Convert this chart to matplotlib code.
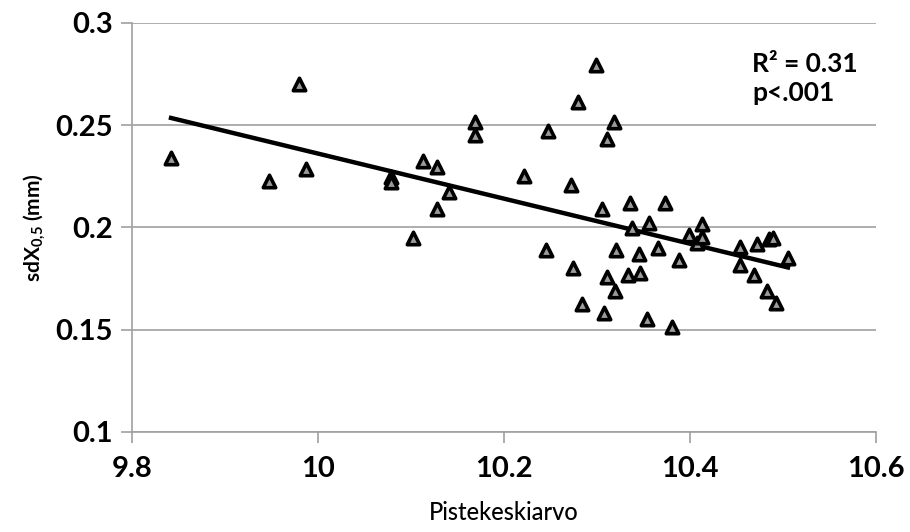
import numpy as np
import matplotlib
matplotlib.use("Agg")
import matplotlib.pyplot as plt

# data
x = [9.842, 9.947, 9.980, 9.987, 10.078, 10.078, 10.102, 10.113, 10.128, 10.128,
     10.141, 10.169, 10.169, 10.221, 10.245, 10.247, 10.272, 10.274, 10.279, 10.284,
     10.299, 10.305, 10.307, 10.311, 10.311, 10.318, 10.319, 10.320, 10.333, 10.335,
     10.337, 10.345, 10.346, 10.354, 10.356, 10.365, 10.373, 10.380, 10.388, 10.399,
     10.407, 10.413, 10.413, 10.453, 10.453, 10.469, 10.472, 10.483, 10.485, 10.489,
     10.492, 10.505]
y = [0.2337, 0.2226, 0.2700, 0.2288, 0.2248, 0.2223, 0.1946, 0.2326, 0.2296, 0.2090,
     0.2174, 0.2516, 0.2451, 0.2249, 0.1892, 0.2472, 0.2208, 0.1800, 0.2611, 0.1624,
     0.2795, 0.2089, 0.1583, 0.2432, 0.1759, 0.2513, 0.1689, 0.1892, 0.1767, 0.2120,
     0.1995, 0.1870, 0.1775, 0.1552, 0.2022, 0.1897, 0.2120, 0.1514, 0.1839, 0.1962,
     0.1926, 0.2016, 0.1951, 0.1905, 0.1816, 0.1767, 0.1917, 0.1690, 0.1941, 0.1946,
     0.1631, 0.1849]

xticks = [9.8, 10, 10.2, 10.4, 10.6]
yticks = [0.1, 0.15, 0.2, 0.25, 0.3]

plt.rcParams['font.family'] = ['Lato', 'DejaVu Sans']
plt.rcParams['mathtext.fontset'] = 'custom'
plt.rcParams['mathtext.rm'] = 'Lato:bold'
plt.rcParams['mathtext.default'] = 'rm'

fig = plt.figure(figsize=(9.1, 5.32), dpi=100)
ax = fig.add_axes([0.145, 0.188, 0.818, 0.769])

x_arr = np.array(x)
y_arr = np.array(y)
k, b = np.polyfit(x_arr, y_arr, 1)
xx = np.array([x_arr.min(), x_arr.max()])
ax.plot(xx, k * xx + b, color="black", lw=3.2, zorder=2)

ax.scatter(x, y, marker="^", s=80, facecolor="#9a9a9a", edgecolor="black",
           linewidths=2.6, zorder=3)

ax.set_xlim(9.8, 10.6)
ax.set_ylim(0.1, 0.3)
ax.set_xticks(xticks)
ax.set_xticklabels(["9.8", "10", "10.2", "10.4", "10.6"])
ax.set_yticks(yticks)
ax.set_yticklabels(["0.1", "0.15", "0.2", "0.25", "0.3"])
ax.yaxis.grid(True, color="#a0a0a0", lw=1.2)
ax.set_axisbelow(True)
for s in ["top", "right"]:
    ax.spines[s].set_visible(False)
for s in ["left", "bottom"]:
    ax.spines[s].set_color("#a0a0a0")
    ax.spines[s].set_linewidth(1.2)
ax.tick_params(colors="#a0a0a0", length=8, width=1.2, labelcolor="black",
               labelsize=21)
for lab in ax.get_xticklabels() + ax.get_yticklabels():
    lab.set_fontweight("bold")
ax.tick_params(axis="x", pad=9)
ax.tick_params(axis="y", pad=6)

ax.set_xlabel("Pistekeskiarvo", fontsize=17, fontweight="medium", labelpad=14)
ax.set_ylabel("sdX$_{0{,}5}$ (mm)", fontsize=15, fontweight="bold", labelpad=6)

ax.text(0.833, 0.863, "R² = 0.31\np<.001", transform=ax.transAxes, fontsize=19,
        fontweight="bold", va="center", linespacing=1.25)

fig.savefig("out.png", dpi=100)
